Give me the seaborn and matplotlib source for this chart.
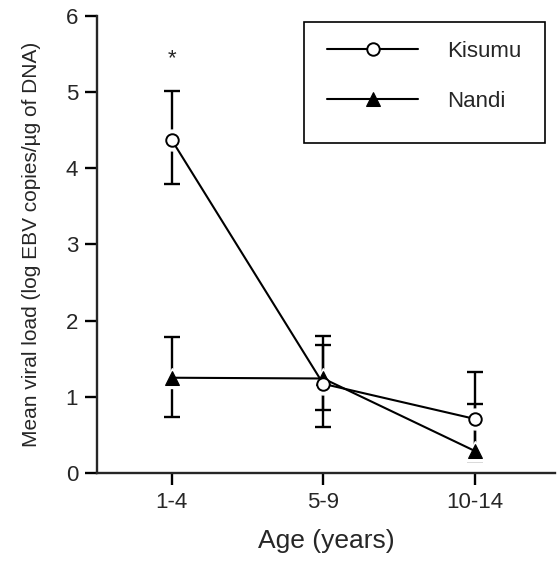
import numpy as np
import pandas as pd
import matplotlib
matplotlib.use("Agg")
import matplotlib.pyplot as plt
import seaborn as sns
from matplotlib.patches import Rectangle

# values
ages = ["1-4", "5-9", "10-14"]
kisumu_mean = [4.37, 1.17, 0.71]
kisumu_upper = [5.02, 1.80, 1.33]
kisumu_lower = [3.79, 0.60, 0.15]
nandi_mean = [1.25, 1.24, 0.29]
nandi_upper = [1.78, 1.68, 0.90]
nandi_lower = [0.73, 0.83, 0.19]
y_ticks = [0, 1, 2, 3, 4, 5, 6]

sns.set_style("ticks")
plt.rcParams["font.family"] = ["Liberation Sans", "DejaVu Sans"]

fig = plt.figure(figsize=(5.57, 5.61), dpi=100)
ax = fig.add_axes([0.174, 0.157, 0.822, 0.8145])

# --- lines with markers ---
sns.lineplot(x=ages, y=kisumu_mean, sort=False, color="black", lw=1.5,
             marker="o", ms=9, mfc="white", mec="black", mew=1.4,
             label="Kisumu", zorder=5, ax=ax)
sns.lineplot(x=ages, y=nandi_mean, sort=False, color="black", lw=1.5,
             marker="^", ms=10.5, mfc="black", mec="black",
             label="Nandi", zorder=4, ax=ax)

# --- error bars, with a white gap around each marker ---
for mean, lo, hi in [(kisumu_mean, kisumu_lower, kisumu_upper),
                     (nandi_mean, nandi_lower, nandi_upper)]:
    m = np.array(mean)
    ax.errorbar(ages, m, yerr=[m - np.array(lo), np.array(hi) - m], fmt="none",
                ecolor="black", elinewidth=1.7, capsize=5.5, capthick=1.7, zorder=1)
ax.plot(ages, kisumu_mean, ls="none", marker="o", ms=15, mfc="white", mec="white", zorder=2)
ax.plot(ages, nandi_mean, ls="none", marker="^", ms=15, mfc="white", mec="white", zorder=2)

ax.text(0, kisumu_upper[0] + 0.42, "*", ha="center", va="center", fontsize=16)

ax.set_xlim(-0.495, 2.53)
ax.set_ylim(0, 6)
ax.set_yticks(y_ticks)
sns.despine(ax=ax)
for s in ["left", "bottom"]:
    ax.spines[s].set_linewidth(1.7)
ax.tick_params(axis="both", width=1.7, length=8.5, pad=5, labelsize=16, color="black")

ax.set_xlabel("Age (years)", fontsize=19, labelpad=12)
ax.set_ylabel("Mean viral load (log EBV copies/\u00b5g of DNA)", fontsize=15, labelpad=18)

# legend without its own frame, sitting in a plain rectangle
leg = ax.legend(loc="upper left", bbox_to_anchor=(0.587, 0.927),
                bbox_transform=fig.transFigure, frameon=False, fontsize=16,
                handlelength=4.1, handletextpad=1.3, labelspacing=1.3,
                borderpad=0, borderaxespad=0)
fig.patches.append(Rectangle((0.546, 0.745), 0.432, 0.216, transform=fig.transFigure,
                             fill=False, edgecolor="black", linewidth=1.2))

fig.savefig("out.png", dpi=100)
